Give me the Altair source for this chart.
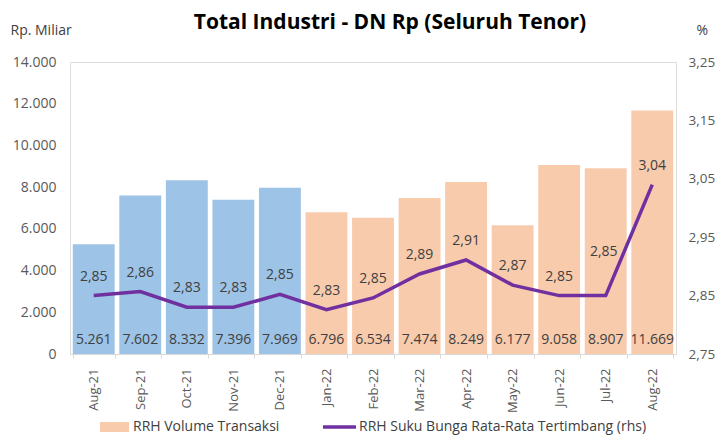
import altair as alt
import pandas as pd

months = ["Aug-21", "Sep-21", "Oct-21", "Nov-21", "Dec-21", "Jan-22", "Feb-22",
          "Mar-22", "Apr-22", "May-22", "Jun-22", "Jul-22", "Aug-22"]
volume = [5261, 7602, 8332, 7396, 7969, 6796, 6534, 7474, 8249, 6177, 9058, 8907, 11669]
rate = [2.850, 2.857, 2.830, 2.830, 2.852, 2.826, 2.846, 2.887, 2.911, 2.868, 2.850, 2.850, 3.040]
period = ["2021"] * 5 + ["2022"] * 8

left_ticks = [0, 2000, 4000, 6000, 8000, 10000, 12000, 14000]
right_ticks = [2.75, 2.85, 2.95, 3.05, 3.15, 3.25]

BAR_LABEL = "RRH Volume Transaksi"
LINE_LABEL = "RRH Suku Bunga Rata-Rata Tertimbang (rhs)"

df = pd.DataFrame({"month": months, "volume": volume, "rate": rate, "period": period})
legend_bar = pd.DataFrame({"label": [BAR_LABEL]})
legend_line = pd.DataFrame({"label": [LINE_LABEL]})

FONT = "Open Sans"
BLUE = "#9DC3E6"
ORANGE = "#F8CBAD"
PURPLE = "#7030A0"
TXT = "#404040"
AX = "#595959"
W, H = 606, 292

x = alt.X("month:N", sort=months,
          scale=alt.Scale(paddingInner=0.1, paddingOuter=0.06),
          axis=alt.Axis(title=None, labelAngle=270, labelFont=FONT, labelFontSize=13,
                        labelColor=AX, labelPadding=10, domainColor="#D9D9D9",
                        tickColor="#D9D9D9", tickSize=4, tickBand="extent", grid=False))

bars = alt.Chart(df).mark_bar().encode(
    x=x,
    y=alt.Y("volume:Q", scale=alt.Scale(domain=[0, 14000]),
            axis=alt.Axis(values=left_ticks, format=",d", title="Rp. Miliar",
                          titleAngle=0, titleX=-60, titleY=-32, titleAlign="left",
                          titleBaseline="middle", titleFontWeight="normal",
                          titleFont=FONT, titleFontSize=14, titleColor=TXT,
                          labelFont=FONT, labelFontSize=14, labelColor=AX,
                          domain=False, ticks=False, grid=False, labelPadding=14)),
    fill=alt.Fill("period:N", scale=alt.Scale(domain=["2021", "2022"], range=[BLUE, ORANGE]),
                  legend=None),
)

bar_text = alt.Chart(df).mark_text(font=FONT, fontSize=14, color=TXT, baseline="middle").encode(
    x=x,
    y=alt.value(H - 14),
    text=alt.Text("volume:Q", format=",d"),
)

# manual legend (below the plot area)
leg_rect = alt.Chart(legend_bar).mark_rect(color=ORANGE).encode(
    x=alt.value(30), x2=alt.value(59), y=alt.value(H + 68), y2=alt.value(H + 78))
leg_rect_text = alt.Chart(legend_bar).mark_text(
    font=FONT, fontSize=14, color=TXT, align="left", baseline="middle").encode(
    x=alt.value(63), y=alt.value(H + 73), text="label:N")
leg_line = alt.Chart(legend_line).mark_rule(color=PURPLE, strokeWidth=3.5).encode(
    x=alt.value(253), x2=alt.value(286), y=alt.value(H + 73))
leg_line_text = alt.Chart(legend_line).mark_text(
    font=FONT, fontSize=14, color=TXT, align="left", baseline="middle").encode(
    x=alt.value(289), y=alt.value(H + 73), text="label:N")

y_rate = alt.Y("rate:Q", scale=alt.Scale(domain=[2.75, 3.25]),
               axis=alt.Axis(orient="right", values=right_ticks, format=".2f", title="%",
                             titleAngle=0, titleX=20, titleY=-32, titleAlign="left",
                             titleBaseline="middle", titleFontWeight="normal",
                             titleFont=FONT, titleFontSize=14, titleColor=TXT,
                             labelFont=FONT, labelFontSize=13.5, labelColor=AX,
                             domain=False, ticks=False, grid=False, labelPadding=12))

line = alt.Chart(df).mark_line(strokeWidth=3.5, color=PURPLE).encode(x=x, y=y_rate)

line_text = alt.Chart(df).transform_filter("datum.month != 'Jul-22'").mark_text(
    font=FONT, fontSize=14, color=TXT, dy=-19).encode(
    x=x, y=alt.Y("rate:Q"), text=alt.Text("rate:Q", format=".2f"))

line_text_jul = alt.Chart(df).transform_filter("datum.month == 'Jul-22'").mark_text(
    font=FONT, fontSize=14, color=TXT, dy=-44, dx=-2).encode(
    x=x, y=alt.Y("rate:Q"), text=alt.Text("rate:Q", format=".2f"))

chart = alt.layer(
    alt.layer(bars, bar_text, leg_rect, leg_rect_text, leg_line, leg_line_text),
    alt.layer(line, line_text, line_text_jul),
).resolve_scale(y="independent").properties(
    width=W, height=H,
    autosize=alt.AutoSizeParams(type="none"),
    padding={"left": 62, "top": 54, "right": 42, "bottom": 81},
    title=alt.Title("Total Industri - DN Rp (Seluruh Tenor)", font=FONT, fontSize=21,
                    fontWeight="bold", color="black", anchor="middle", dx=17, offset=-10),
).configure_view(stroke=None).configure(
    locale={"number": {"decimal": ",", "thousands": ".", "grouping": [3], "currency": ["", ""]}}
)

chart.save("out.html", embed_options={"renderer": "svg", "actions": False})
